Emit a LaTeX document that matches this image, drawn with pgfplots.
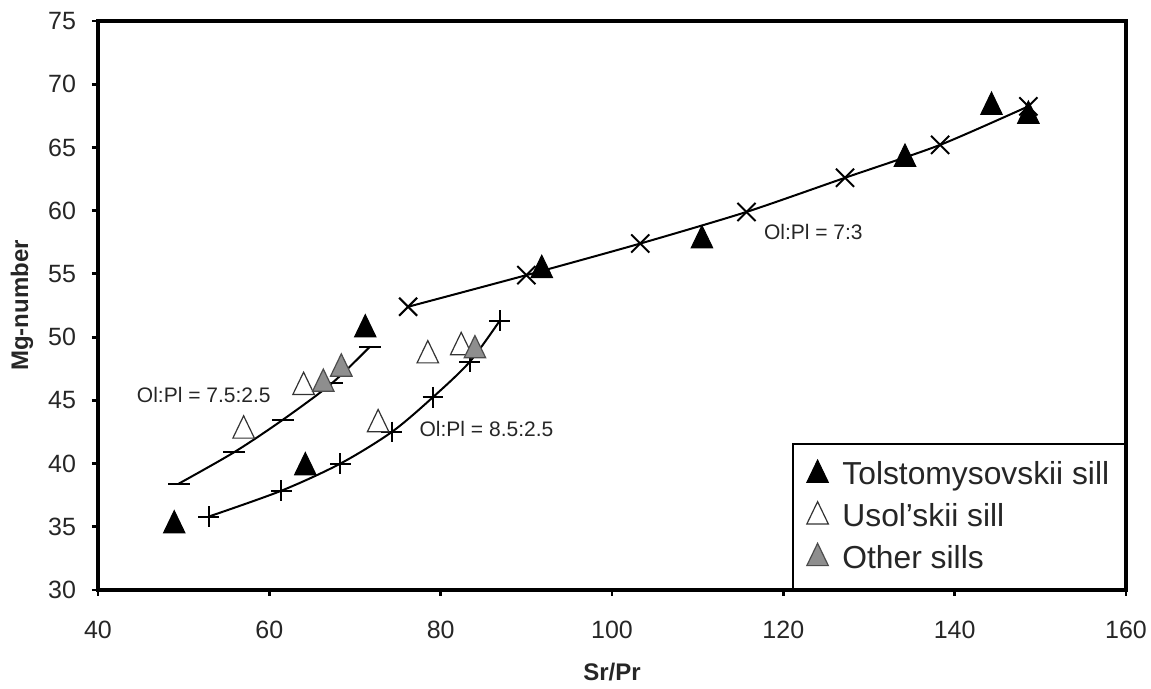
\documentclass[border=0pt]{standalone}
\usepackage{fontspec}
\setmainfont{Liberation Sans}
\usepackage{pgfplots}
\pgfplotsset{compat=1.18}
\definecolor{othergray}{HTML}{8E8E8E}
\definecolor{txt}{HTML}{262626}
\begin{document}
\begin{tikzpicture}
\begin{axis}[
  scale only axis, width=514pt, height=284.5pt,
  xmin=40, xmax=160, ymin=30, ymax=75,
  xtick={40,60,...,160}, ytick={30,35,...,75},
  xtick pos=bottom, ytick pos=left,
  tick align=outside, major tick length=3pt,
  every tick/.style={black, line width=1.4pt},
  axis line style={line width=1.6pt},
  /pgf/number format/assume math mode=true,
  tick label style={font=\fontsize{12.5}{14}\selectfont, text=txt},
  yticklabel style={xshift=-4.5pt},
  xticklabel style={yshift=-9pt},
  xlabel={Sr/Pr}, ylabel={Mg-number},
  label style={font=\fontsize{12}{14}\selectfont\bfseries, text=txt},
  xlabel style={at={(axis description cs:0.5,-0.1441)}, anchor=center},
  ylabel style={at={(axis description cs:-0.0739,0.5)}, anchor=center},
  legend style={at={(1,0)}, anchor=south east, draw=black, line width=0.8pt,
    font=\fontsize{15.9}{18}\selectfont, text=txt,
    inner xsep=6pt, inner ysep=7pt, row sep=3.8pt,
    /tikz/every even column/.append style={column sep=0pt}},
  legend cell align=left,
  legend image code/.code={\path (-6pt,0pt) (10pt,0pt); \path[#1] plot coordinates {(0pt,0pt)};},
]
% model curves
\addplot[black, line width=1pt, smooth, tension=0.4, mark=x, mark size=6.4pt, mark options={line width=1pt}, forget plot]
  coordinates {(76.2,52.4) (90.0,54.9) (103.3,57.4) (115.7,59.9) (127.2,62.6) (138.3,65.2) (148.6,68.25)};
\addplot[black, line width=1pt, smooth, tension=0.5, mark=-, mark size=5.5pt, mark options={line width=1pt}, forget plot]
  coordinates {(49.4,38.4) (55.9,40.9) (61.55,43.45) (67.3,46.35) (71.75,49.25)};
\addplot[black, line width=1pt, smooth, tension=0.5, mark=+, mark size=5.2pt, mark options={line width=1pt}, forget plot]
  coordinates {(52.9,35.8) (61.4,37.85) (68.3,40.0) (74.3,42.5) (79.1,45.25) (83.4,48.05) (86.9,51.3)};
% samples
\addplot[only marks, mark=triangle*, mark size=6.2pt, mark options={fill=black, draw=black, line width=0.5pt, yscale=1.2}]
  coordinates {(48.9,35.1) (64.2,39.7) (71.2,50.6) (91.8,55.3) (110.5,57.65) (134.2,64.1) (144.3,68.2) (148.6,67.5)};
\addlegendentry{Tolstomysovskii sill}
\addplot[only marks, mark=triangle*, mark size=6.2pt, mark options={fill=white, draw=black!80, line width=0.6pt, yscale=1.2}]
  coordinates {(57.0,42.6) (64.0,46.05) (72.7,43.1) (78.5,48.55) (82.4,49.2)};
\addlegendentry{Usol'skii sill}
\addplot[only marks, mark=triangle*, mark size=6.2pt, mark options={fill=othergray, draw=black!70, line width=0.6pt, yscale=1.2}]
  coordinates {(66.3,46.3) (68.4,47.5) (84.0,48.95)};
\addlegendentry{Other sills}
% labels
\node[anchor=west, inner sep=0pt, font=\fontsize{10.5}{12}\selectfont, text=txt] at (axis cs:44.5,45.4) {Ol:Pl = 7.5:2.5};
\node[anchor=west, inner sep=0pt, font=\fontsize{10.5}{12}\selectfont, text=txt] at (axis cs:77.5,42.7) {Ol:Pl = 8.5:2.5};
\node[anchor=west, inner sep=0pt, font=\fontsize{10.5}{12}\selectfont, text=txt] at (axis cs:117.7,58.35) {Ol:Pl = 7:3};
\end{axis}
\pgfresetboundingbox
\path[use as bounding box] ([xshift=-49pt,yshift=-49.5pt]current axis.south west) rectangle ([xshift=12.5pt,yshift=10.5pt]current axis.north east);
\end{tikzpicture}
\end{document}
